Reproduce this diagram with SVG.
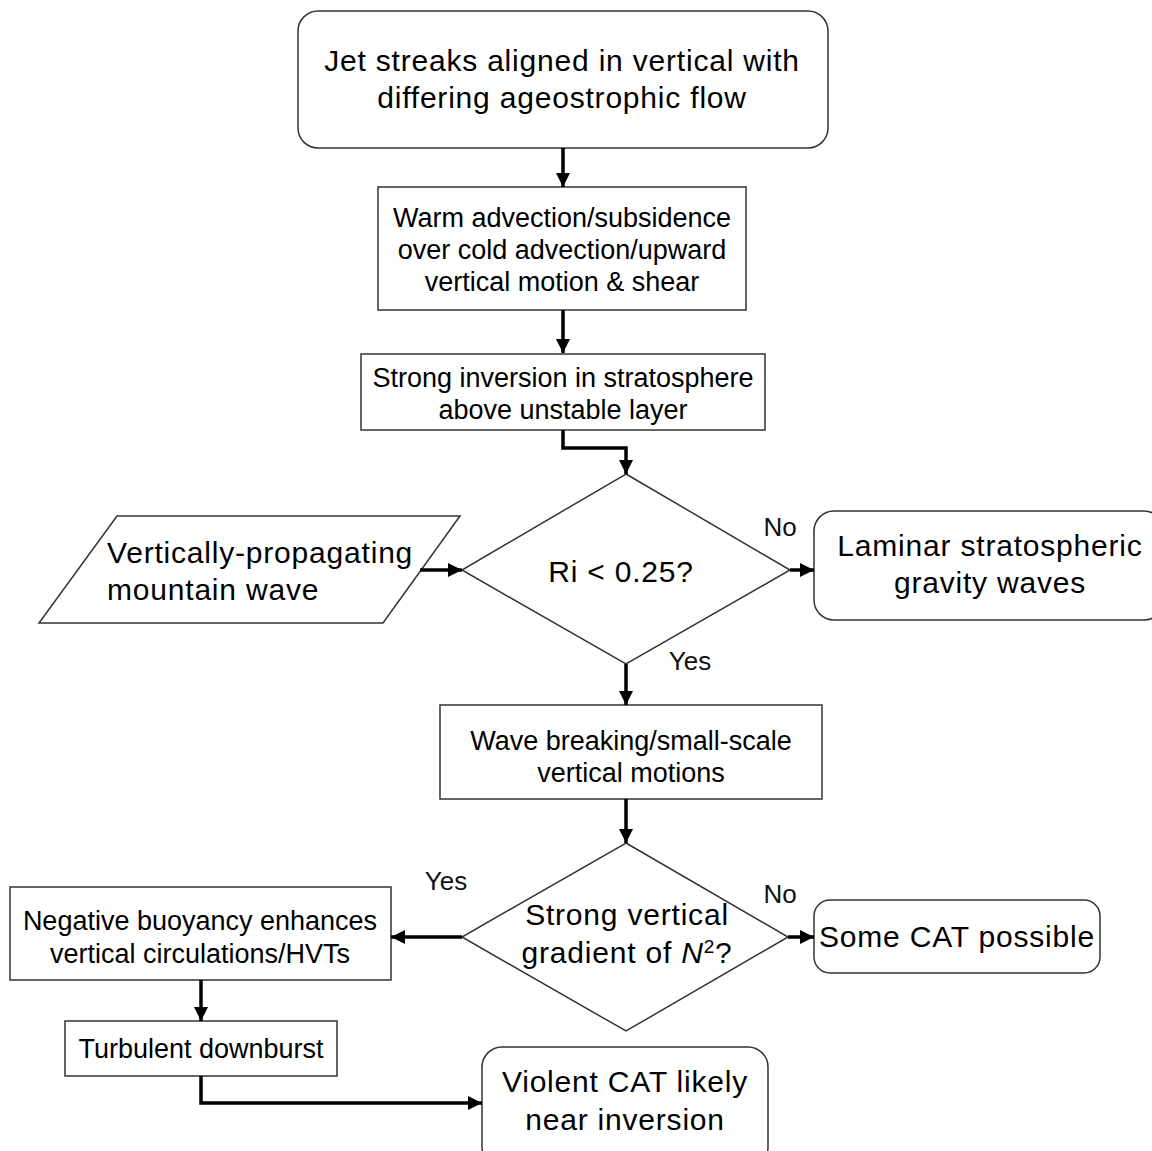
<svg xmlns="http://www.w3.org/2000/svg" width="1152" height="1151" viewBox="0 0 1152 1151">
<defs>
<marker id="ah" viewBox="0 0 10 10" refX="10" refY="5" markerWidth="4" markerHeight="4" orient="auto" markerUnits="strokeWidth">
<path d="M0,0 L10,5 L0,10 z" fill="#000"/>
</marker>
<style>
.box{fill:#fff;stroke:#333;stroke-width:1.5}
.t{font-family:"Liberation Sans",Arial,sans-serif;fill:#000;text-anchor:middle}
.big{font-size:30px;letter-spacing:0.8px}
.mid{font-size:27px}
.lbl{font-size:26px;fill:#111}
.c{fill:none;stroke:#000;stroke-width:3.5;marker-end:url(#ah)}
</style>
</defs>
<rect width="1152" height="1151" fill="#fff"/>
<g id="n1"><rect class="box" x="298" y="11" width="530" height="137" rx="20"/>
<text class="t big" x="562" y="71">Jet streaks aligned in vertical with</text>
<text class="t big" x="562" y="108">differing ageostrophic flow</text></g>
<g id="n2"><rect class="box" x="378" y="187" width="368" height="123"/>
<text class="t mid" x="562" y="227">Warm advection/subsidence</text>
<text class="t mid" x="562" y="259">over cold advection/upward</text>
<text class="t mid" x="562" y="291">vertical motion &amp; shear</text></g>
<g id="n3"><rect class="box" x="361" y="354" width="404" height="76"/>
<text class="t mid" x="563" y="387">Strong inversion in stratosphere</text>
<text class="t mid" x="563" y="419">above unstable layer</text></g>
<g id="d1"><polygon class="box" points="626,474 790,570 626,664 462,570"/>
<text class="t big" x="621" y="582">Ri &lt; 0.25?</text></g>
<g id="p1"><polygon class="box" points="117,516 460,516 383,623 39,623"/>
<text class="t big" x="107" y="563" style="text-anchor:start">Vertically-propagating</text>
<text class="t big" x="107" y="600" style="text-anchor:start">mountain wave</text></g>
<g id="n4"><rect class="box" x="814" y="511" width="350" height="109" rx="20"/>
<text class="t big" x="990" y="556">Laminar stratospheric</text>
<text class="t big" x="990" y="593">gravity waves</text></g>
<g id="n5"><rect class="box" x="440" y="705" width="382" height="94"/>
<text class="t mid" x="631" y="750">Wave breaking/small-scale</text>
<text class="t mid" x="631" y="782">vertical motions</text></g>
<g id="d2"><polygon class="box" points="626,843 788,937 626,1031 462,937"/>
<text class="t big" x="627" y="925">Strong vertical</text>
<text class="t big" x="627" y="963">gradient of <tspan font-style="italic">N</tspan><tspan font-size="19" dy="-10">2</tspan><tspan dy="10">?</tspan></text></g>
<g id="n6"><rect class="box" x="10" y="887" width="381" height="93"/>
<text class="t mid" x="200" y="930">Negative buoyancy enhances</text>
<text class="t mid" x="200" y="963">vertical circulations/HVTs</text></g>
<g id="n7"><rect class="box" x="65" y="1021" width="272" height="55"/>
<text class="t mid" x="201" y="1058">Turbulent downburst</text></g>
<g id="n8"><rect class="box" x="482" y="1047" width="286" height="120" rx="20"/>
<text class="t big" x="625" y="1092">Violent CAT likely</text>
<text class="t big" x="625" y="1130">near inversion</text></g>
<g id="n9"><rect class="box" x="814" y="900" width="286" height="73" rx="16"/>
<text class="t big" x="957" y="947">Some CAT possible</text></g>
<g id="labels">
<text class="t lbl" x="780" y="536">No</text>
<text class="t lbl" x="690" y="670">Yes</text>
<text class="t lbl" x="446" y="890">Yes</text>
<text class="t lbl" x="780" y="903">No</text>
</g>
<g id="connectors">
<path class="c" d="M563,148 V187"/>
<path class="c" d="M563,310 V353"/>
<path class="c" d="M563,430 V448 H626 V474"/>
<path class="c" d="M420,570 H462"/>
<path class="c" d="M790,570 H814"/>
<path class="c" d="M626,664 V705"/>
<path class="c" d="M626,799 V843"/>
<path class="c" d="M462,937 H391"/>
<path class="c" d="M788,937 H814"/>
<path class="c" d="M201,980 V1021"/>
<path class="c" d="M201,1076 V1103 H482"/>
</g>
</svg>
